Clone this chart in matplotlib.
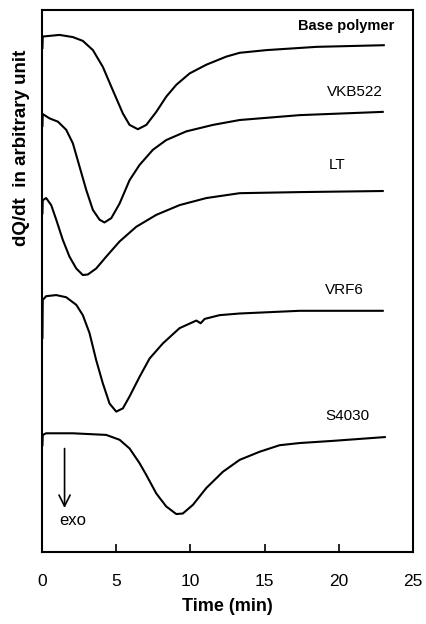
import matplotlib
matplotlib.use("Agg")
import matplotlib.pyplot as plt

plt.rcParams["font.family"] = ["Liberation Sans", "DejaVu Sans"]

# time (min) and heat-flow values (arbitrary units)
base_t = [0.03, 0.05, 1.18, 2.08, 2.75, 3.43, 4.10, 4.77, 5.45, 5.90, 6.46, 7.03, 7.70,
          8.37, 9.05, 9.95, 11.07, 12.42, 13.32, 15.14, 18.51, 23.03]
base_y = [93.0, 95.1, 95.4, 95.0, 94.3, 92.6, 89.5, 85.2, 80.9, 78.8, 78.0, 78.8, 81.2,
          84.0, 86.2, 88.3, 89.9, 91.4, 92.1, 92.6, 93.2, 93.5]

vkb_t = [0.03, 0.05, 0.51, 1.07, 1.63, 2.08, 2.53, 2.98, 3.43, 3.88, 4.21, 4.67, 5.23,
         5.90, 6.57, 7.47, 8.37, 9.72, 11.52, 13.32, 17.36, 22.96]
vkb_y = [78.6, 80.8, 80.0, 79.4, 77.9, 75.4, 71.1, 66.8, 63.1, 61.3, 60.8, 61.6, 64.3,
         68.6, 71.4, 74.2, 76.0, 77.6, 78.8, 79.7, 80.6, 81.2]

lt_t = [0.03, 0.05, 0.28, 0.62, 0.96, 1.40, 1.85, 2.31, 2.75, 3.09, 3.65, 4.33, 5.23,
        6.35, 7.70, 9.27, 11.07, 13.32, 17.36, 22.96]
lt_y = [62.5, 64.9, 65.3, 64.0, 61.3, 57.6, 54.5, 52.3, 51.1, 51.2, 52.3, 54.5, 57.3,
        60.0, 62.2, 64.0, 65.3, 66.2, 66.4, 66.6]

vrf_t = [0.03, 0.05, 0.28, 0.96, 1.63, 2.31, 2.75, 3.20, 3.65, 4.10, 4.55, 5.00, 5.45,
         5.90, 6.57, 7.25, 8.15, 9.27, 10.40, 10.69, 10.96, 11.97, 13.32, 17.36, 22.96]
vrf_y = [39.5, 46.5, 47.2, 47.4, 47.0, 45.6, 43.7, 40.4, 35.4, 31.1, 27.4, 25.9, 26.5,
         28.7, 32.3, 35.7, 38.5, 41.3, 42.7, 42.2, 43.0, 43.7, 44.0, 44.5, 44.5]

s4030_t = [0.03, 0.05, 0.28, 2.08, 4.33, 5.23, 5.90, 6.57, 7.03, 7.70, 8.37, 9.05, 9.49,
           10.17, 11.07, 12.19, 13.32, 14.67, 16.01, 17.36, 19.59, 23.10]
s4030_y = [19.7, 21.6, 21.9, 21.9, 21.6, 20.7, 19.1, 16.4, 14.2, 10.8, 8.4, 7.0, 7.1,
           8.7, 11.8, 14.8, 17.0, 18.5, 19.7, 20.1, 20.5, 21.2]

names = ["Base polymer", "VKB522", "LT", "VRF6", "S4030"]
label_t = [20.5, 21.1, 19.9, 20.4, 20.6]
label_y = [97.0, 84.9, 71.4, 48.3, 25.1]

fig = plt.figure(figsize=(4.26, 6.24), dpi=100)
ax = fig.add_axes([0.0986, 0.1154, 0.8709, 0.8686])

for t, y in [(base_t, base_y), (vkb_t, vkb_y), (lt_t, lt_y), (vrf_t, vrf_y), (s4030_t, s4030_y)]:
    ax.plot(t, y, color="black", lw=1.5, solid_joinstyle="round")

for name, tx, ty in zip(names, label_t, label_y):
    ax.text(tx, ty, name, ha="center", va="center", fontsize=11 if name != "Base polymer" else 10.5,
            fontweight="bold" if name == "Base polymer" else "normal")

ax.annotate("", xy=(1.52, 7.6), xytext=(1.52, 19.6),
            arrowprops=dict(arrowstyle="->", lw=1.2, color="black", mutation_scale=20))
ax.text(2.1, 5.9, "exo", ha="center", va="center", fontsize=12)

ax.set_xlim(0, 25)
ax.set_ylim(0, 100)
ax.set_xticks([0, 5, 10, 15, 20, 25])
ax.set_yticks([])
ax.tick_params(axis="x", direction="in", length=6, width=1.2, pad=16, labelsize=12.5)
for s in ax.spines.values():
    s.set_linewidth(1.5)

ax.set_xlabel("Time (min)", fontsize=13, fontweight="bold", labelpad=6)
fig.text(22 / 426, 1 - 148 / 624, "dQ/dt  in arbitrary unit", rotation=90,
         ha="center", va="center", fontsize=13.5, fontweight="bold")

fig.savefig("out.png", dpi=100)
